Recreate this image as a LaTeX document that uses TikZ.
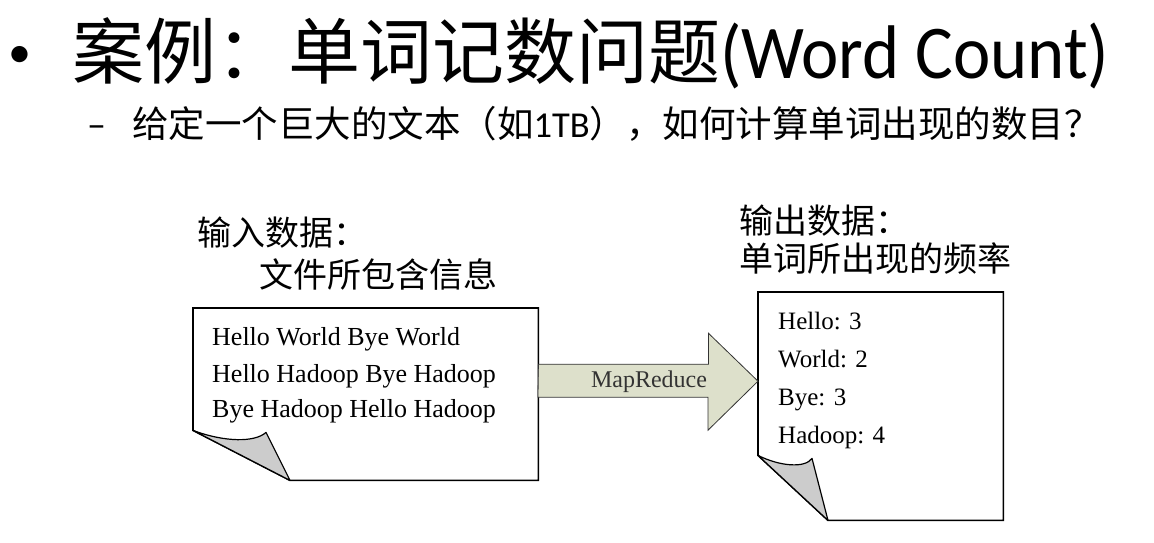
\documentclass[tikz,border=0pt]{standalone}
\usepackage{fontspec}
\setmainfont{Liberation Serif}
\newfontfamily\cjk{Noto Sans CJK SC}
\newfontfamily\calibri{Carlito}
\newfontfamily\calibrin[FakeStretch=0.93]{Carlito}
\definecolor{mrfill}{HTML}{DDE0CB}
\begin{document}
\begin{tikzpicture}[x=1pt,y=-1pt,
    docbox/.style={inner sep=0pt,anchor=north west},
    page/.style={draw=black,line width=1.6pt,fill=white},
    flap/.style={draw=black,line width=1.2pt,fill=black!20,line join=round},
    inline/.style={anchor=base west,inner sep=0pt,font=\fontsize{26}{30}\selectfont},
    outline/.style={anchor=base west,inner sep=0pt,font=\fontsize{25}{30}\selectfont},
    label/.style={anchor=base west,inner sep=0pt,font=\cjk\fontsize{34}{40}\selectfont},
    mrarrow/.style={draw=black!80,line width=0.8pt,fill=mrfill}]
  \useasboundingbox (0,0) rectangle (1154,542);

  \node[anchor=base west,inner sep=0pt,font=\calibri\fontsize{46}{50}\selectfont] (bullet) at (8,67) {•};
  \node[anchor=base west,inner sep=0pt] (title) at (72,78) {{\cjk\fontsize{72}{80}\selectfont 案例：单词记数问题}{\calibrin\fontsize{76}{80}\selectfont (Word Count)}};
  \node[anchor=base west,inner sep=0pt,font=\calibri\fontsize{38}{40}\selectfont] (dash) at (87,137) {–};
  \node[anchor=base west,inner sep=0pt,font=\fontsize{36.5}{40}\selectfont] (subtitle) at (132,137) {{\cjk 给定一个巨大的文本（如}{\calibri 1TB}{\cjk ），如何计算单词出现的数目？}};

  \node[label] (inlabel) at (197,245) {输入数据：};
  \node[label] (infile) at (259,287) {文件所包含信息};
  \node[label] (outlabel) at (739,233) {输出数据：};
  \node[label] (outfreq) at (739,271) {单词所出现的频率};

  \node[docbox,minimum width=345pt,minimum height=172pt] (input) at (193,308) {};
  \node[docbox,minimum width=245pt,minimum height=228pt] (output) at (758,292) {};

  \draw[page] (input.north west) -- (input.north east) -- (input.south east) -- ([xshift=97pt]input.south west) -- ([yshift=50pt]input.south west) -- cycle;
  \draw[flap] ([yshift=50pt]input.south west) .. controls +(32,12) and +(-11,10) .. ([xshift=73pt,yshift=48pt]input.south west) -- ([xshift=97pt]input.south west) -- cycle;

  \draw[page] (output.north west) -- (output.north east) -- (output.south east) -- ([xshift=70pt]output.south west) -- ([yshift=65pt]output.south west) -- cycle;
  \draw[flap] ([yshift=65pt]output.south west) .. controls +(22,11) and +(-7,10) .. ([xshift=54pt,yshift=62pt]output.south west) -- ([xshift=70pt]output.south west) -- cycle;

  \node[inline] (in1) at (212,345) {Hello World Bye World};
  \node[inline] (in2) at (212,382) {Hello Hadoop Bye Hadoop};
  \node[inline] (in3) at (212,417) {Bye Hadoop Hello Hadoop};

  \node[outline] (out1) at (778,329) {Hello: 3};
  \node[outline] (out2) at (778,367) {World: 2};
  \node[outline] (out3) at (778,405) {Bye: 3};
  \node[outline] (out4) at (778,443) {Hadoop: 4};

  \coordinate (tail) at ([yshift=13pt]input.east);
  \coordinate (tip) at ([yshift=13pt]input.east -| output.west);
  \draw[mrarrow] (tail) ++(0,-17) -- ++(170,0) -- ++(0,-31) -- (tip) -- ++(-50,49) -- ++(0,-33) -- ++(-170,0) -- cycle;
  \node[anchor=base,inner sep=0pt,text=black!80,font=\fontsize{24}{28}\selectfont] (mr) at (649,387) {MapReduce};
\end{tikzpicture}
\end{document}
